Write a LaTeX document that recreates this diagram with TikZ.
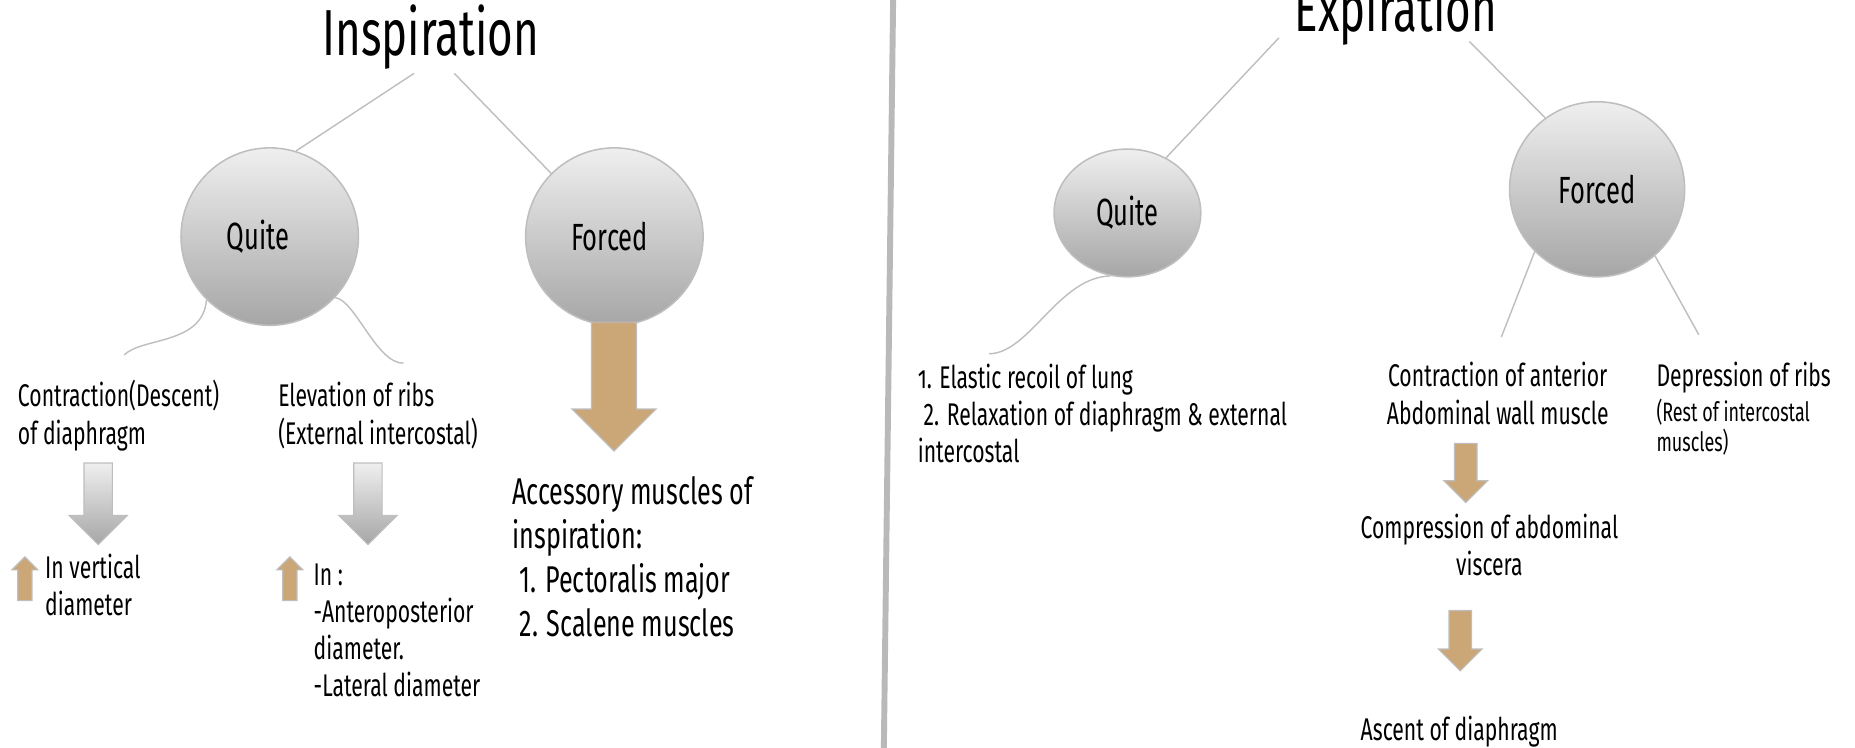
\documentclass[tikz,border=0pt]{standalone}
\usepackage{fontspec}
\setmainfont{Fira Sans}[FakeStretch=0.675]
\usetikzlibrary{positioning,calc,shapes.geometric,shapes.arrows}
\definecolor{linegray}{RGB}{190,190,190}
\definecolor{sepgray}{RGB}{185,185,185}
\definecolor{ballhi}{RGB}{239,239,239}
\definecolor{balllo}{RGB}{166,166,166}
\definecolor{arrowtan}{RGB}{203,167,120}

\begin{document}
\begin{tikzpicture}[x=1pt, y=-1pt, font=\fontsize{26.5}{31.5}\selectfont,
  main/.style = {circle, draw=linegray, line width=1.3pt, top color=ballhi, bottom color=balllo, minimum size=150pt, inner sep=0pt, font=\fontsize{32}{36}\selectfont},
  every edge/.append style={draw=linegray, line width=1.2pt},
  conn/.style={draw=linegray, line width=1.2pt},
  txt/.style={inner sep=0pt, align=left},
  title/.style={inner sep=0pt, anchor=base, font=\fontsize{55}{60}\selectfont},
  grayarrow/.style={single arrow, shape border rotate=270, draw=linegray, line width=1pt, top color=ballhi, bottom color=balllo, anchor=tip, inner sep=11.5pt, minimum height=69pt, minimum width=48pt, single arrow head extend=12.5pt},
  tanarrow/.style={single arrow, shape border rotate=270, draw=linegray, line width=1pt, fill=arrowtan, anchor=tip},
  uparrow/.style={tanarrow, shape border rotate=90, inner sep=5.5pt, minimum height=37pt, minimum width=21pt, single arrow head extend=5pt}]

\useasboundingbox (0,0) rectangle (1568,632);

% inspiration side
\node[title] (ti) at (364,46.5) {Inspiration};
\coordinate (ti1) at (350,62);
\coordinate (ti2) at (384,62);
\node[main] (q1) at (228,200) {Quite\hspace*{20pt}};
\node[main] (f1) [right=140pt of q1] {Forced\hspace*{8pt}};
\coordinate (e1) at (105,300);
\coordinate (e2) at (341,307);

% base of a multi-line text = its last line
\node[txt, anchor=base west] (cd) at (15,375.5) {Contraction(Descent)\\of diaphragm};
\node[txt, anchor=base west] (er) at (235,375.5) {Elevation of ribs\\(External intercostal)};
\node[grayarrow] (g1) at (83,461) {};
\node[grayarrow] (g2) at (311,461) {};
\node[uparrow] (u1) at (21,470) {};
\node[uparrow] (u2) at (245,470) {};
\node[txt, anchor=base west] (iv) at (38,520.5) {In vertical\\diameter};
\node[txt, anchor=base west] (ia) at (265,589) {In :\\-Anteroposterior\\diameter.\\-Lateral diameter};
\node[tanarrow, inner sep=18.5pt, minimum height=109pt, minimum width=70pt, single arrow head extend=16.5pt] (b1) at (519,382) {};
\node[txt, anchor=base west, font=\fontsize{31.5}{37}\selectfont] (acc) at (433,537.7) {Accessory muscles of\\inspiration:\\\hspace{6pt}1. Pectoralis major\\\hspace{6pt}2. Scalene muscles};

\path
    (ti1) edge (q1.73)
    (ti2) edge (f1.135);
\draw[conn] (q1.225) .. controls +(-3,38) and +(15,-15) .. (e1);
\draw[conn] (q1.-43) .. controls +(17,2) and +(-23,0) .. (e2);

\draw[sepgray, line width=5pt] (755,-5) -- (747,640);

% expiration side
\node[title] (te) at (1180,27) {Expiration};
\coordinate (te1) at (1081,32);
\coordinate (te2) at (1242,35);
\node[main, ellipse, minimum width=124pt, minimum height=108pt] (q2) at (953,180) {Quite};
\node[main, minimum size=148pt] (f2) at (1350,160) {Forced};
\coordinate (e3) at (836,299);
\coordinate (e4) at (1269,285);
\coordinate (e5) at (1436,283);

\node[txt, anchor=base west] (el) at (775.6,391) {{\addfontfeature{Numbers=OldStyle}1}. Elastic recoil of lung\\\hspace{5pt}2. Relaxation of diaphragm \& external\\intercostal};
\node[txt, anchor=base, align=center] (ca) at (1266,358.5) {Contraction of anterior\\Abdominal wall muscle};
\node[txt, anchor=base west] (dr) at (1400,327) {Depression of ribs};
\node[txt, anchor=base west, font=\fontsize{22.5}{25}\selectfont] (ri) at (1400,381.5) {(Rest of intercostal\\muscles)};
\node[tanarrow, inner sep=9pt, minimum height=50pt, minimum width=36pt, single arrow head extend=9pt] (t3) at (1239,425.5) {};
\node[txt, anchor=base, align=center] (cv) at (1259,486.5) {Compression of abdominal\\viscera};
\node[tanarrow, inner sep=9pt, minimum height=51pt, minimum width=36pt, single arrow head extend=9pt] (t4) at (1234.3,567.8) {};
\node[txt, anchor=base west] (ad) at (1150,625.5) {Ascent of diaphragm};

\path
    (te1) edge (q2.55)
    (te2) edge (f2.126)
    (f2.225) edge (e4)
    (f2.-49) edge (e5);
\draw[conn] (q2.255) .. controls +(-44,1) and +(34,0) .. (e3);
\end{tikzpicture}
\end{document}
